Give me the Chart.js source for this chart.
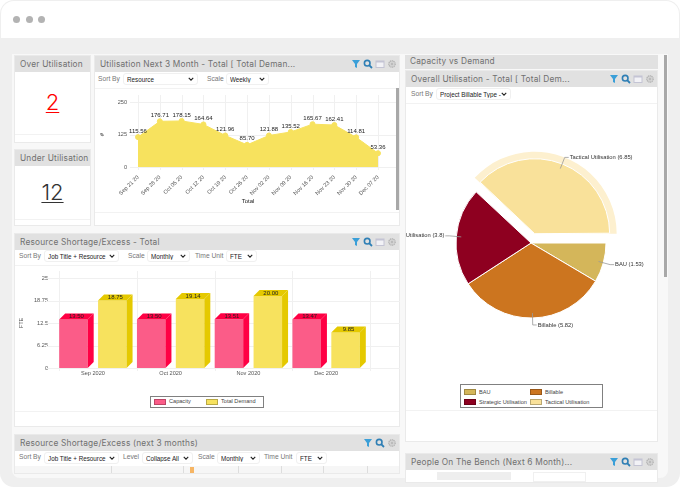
<!DOCTYPE html>
<html lang="en">
<head>
    <meta charset="UTF-8">
    <title>Capacity vs Demand Dashboard</title>
    <style>
        html, body { margin: 0; width: 680px; height: 487px; overflow: hidden; background: #fff; font-family: Inter, Arial, sans-serif; }
        #frame { position: absolute; left: 0; top: 0; width: 680px; height: 487px; background: #efefef; border-radius: 14px; overflow: hidden; filter: blur(0.3px); }
        #titlebar { position: absolute; left: 1px; top: 1px; width: 678px; height: 37px; background: #fff; border-radius: 13px 13px 0 0; }
        .dot { position: absolute; top: 15px; width: 7px; height: 7px; border-radius: 50%; background: #b3b3b3; }
        #inner { position: absolute; left: 12px; top: 54px; width: 656px; height: 424px; background: #f8f8f8; border-radius: 0 0 8px 8px; }
        .panel { position: absolute; background: #fff; border: 1px solid #eaeaea; box-sizing: border-box; overflow: hidden; }
        .head { position: absolute; left: 0; top: 0; right: 0; height: 16px; background: #e1e1e1; color: #707070; font-size: 8.3px; line-height: 16px; padding-left: 5px; letter-spacing: .2px; white-space: nowrap; }
        .icons { position: absolute; right: 2px; top: 3px; display: flex; gap: 2px; }
        .icons svg { width: 10px; height: 10px; display: block; }
        .lbl { position: absolute; font: 6.7px "Liberation Sans", Arial, sans-serif; color: #777; }
        select { position: absolute; height: 12px; padding: 0 0 0 3px; appearance: none; -webkit-appearance: none; background: #fff url("data:image/svg+xml,%3Csvg xmlns='http://www.w3.org/2000/svg' viewBox='0 0 8 5'%3E%3Cpath d='M1 1l3 3 3-3' fill='none' stroke='%23222' stroke-width='1.5'/%3E%3C/svg%3E") no-repeat right 3px center / 6px 4px; border: 1px solid #f0f0f0; border-radius: 3px; font: 6.3px "Liberation Sans", Arial, sans-serif; color: #222; outline: none; }
        .rule { position: absolute; left: 0; right: 0; height: 1px; background: #f2f2f2; }
        .big { position: absolute; left: 0; right: 0; text-align: center; font: 300 22px Inter, Arial, sans-serif; text-decoration: underline; text-decoration-thickness: 1px; text-underline-offset: 2px; }
        canvas { position: absolute; display: block; }
        .scroll { position: absolute; width: 3px; background: #a8a8a8; }
        .legend { position: absolute; box-sizing: border-box; background: #fff; border: 1.5px solid #808080; font: 5.6px "Liberation Sans", Arial, sans-serif; color: #444; }
        .legend div { position: absolute; white-space: nowrap; line-height: 7px; }
        .legend i { position: absolute; width: 12px; height: 6px; box-sizing: border-box; border: 1px solid rgba(0,0,0,.25); }
        .tick { position: absolute; top: 0; width: 1px; height: 8px; background: #ddd; }
    </style>
</head>
<body>
    <div id="frame">
        <div id="titlebar">
            <div class="dot" style="left:12px"></div>
            <div class="dot" style="left:25px"></div>
            <div class="dot" style="left:37px"></div>
        </div>
        <div id="inner"></div>

        <div class="panel" style="left:14px;top:55px;width:77px;height:88px">
            <div class="head">Over Utilisation</div>
            <div class="big" style="top:33px;color:#f00">2</div>
            <div class="rule" style="top:78px"></div>
        </div>
        <div class="panel" style="left:14px;top:149px;width:77px;height:77px">
            <div class="head">Under Utilisation</div>
            <div class="big" style="top:29px;color:#333">12</div>
            <div class="rule" style="top:69px"></div>
        </div>

        <div class="panel" style="left:94px;top:55px;width:306px;height:171px">
            <div class="head">Utilisation Next 3 Month - Total [ Total Deman...<div class="icons" data-icons="4"></div></div>
            <span class="lbl" style="left:3px;top:19px">Sort By</span>
            <select style="left:28px;top:17px;width:75px"><option>Resource</option></select>
            <span class="lbl" style="left:112px;top:19px">Scale</span>
            <select style="left:131px;top:17px;width:43px"><option>Weekly</option></select>
            <div class="rule" style="top:32px"></div>
            <div class="rule" style="top:156px"></div>
        </div>

        <div class="panel" style="left:14px;top:233px;width:386px;height:194px">
            <div class="head">Resource Shortage/Excess - Total<div class="icons" data-icons="4"></div></div>
            <span class="lbl" style="left:4px;top:18px">Sort By</span>
            <select style="left:29px;top:16px;width:75px"><option>Job Title + Resource</option></select>
            <span class="lbl" style="left:113px;top:18px">Scale</span>
            <select style="left:132px;top:16px;width:43px"><option>Monthly</option></select>
            <span class="lbl" style="left:180px;top:18px">Time Unit</span>
            <select style="left:211px;top:16px;width:31px"><option>FTE</option></select>
            <div class="rule" style="top:31px"></div>
            <div class="rule" style="top:177px"></div>
        </div>

        <div class="panel" style="left:14px;top:434px;width:386px;height:40px">
            <div class="head">Resource Shortage/Excess (next 3 months)<div class="icons" data-icons="3"></div></div>
            <span class="lbl" style="left:4px;top:18px">Sort By</span>
            <select style="left:29px;top:17px;width:75px"><option>Job Title + Resource</option></select>
            <span class="lbl" style="left:108px;top:18px">Level</span>
            <select style="left:127px;top:17px;width:51px"><option>Collapse All</option></select>
            <span class="lbl" style="left:183px;top:18px">Scale</span>
            <select style="left:202px;top:17px;width:43px"><option>Monthly</option></select>
            <span class="lbl" style="left:249px;top:18px">Time Unit</span>
            <select style="left:281px;top:17px;width:31px"><option>FTE</option></select>
            <div style="position:absolute;left:0;right:0;top:31px;height:8px;background:#f6f6f6">
                <div class="tick" style="left:96px"></div>
                <div class="tick" style="left:168px"></div>
                <div class="tick" style="left:223px"></div>
                <div class="tick" style="left:266px"></div>
                <div class="tick" style="left:308px"></div>
                <div class="tick" style="left:352px"></div>
                <div style="position:absolute;left:175px;top:1px;width:4px;height:7px;background:#f6b564"></div>
            </div>
        </div>

        <div class="panel" style="left:405px;top:55px;width:253px;height:14px;border:none">
            <div class="head" style="height:14px;line-height:13px;background:#e1e1e1">Capacity vs Demand</div>
        </div>
        <div class="panel" style="left:405px;top:70px;width:253px;height:372px">
            <div class="head">Overall Utilisation - Total [ Total Dem...<div class="icons" data-icons="4"></div></div>
            <span class="lbl" style="left:5px;top:19px">Sort By</span>
            <select style="left:30px;top:17px;width:75px"><option>Project Billable Type -</option></select>
            <div class="rule" style="top:32px"></div>
            <div class="rule" style="top:339px"></div>
        </div>
        <div class="panel" style="left:405px;top:453px;width:253px;height:30px">
            <div class="head">People On The Bench (Next 6 Month)...<div class="icons" data-icons="4"></div></div>
            <div style="position:absolute;left:31px;top:18px;width:74px;height:8px;background:#eee"></div>
            <div style="position:absolute;left:127px;top:18px;width:51px;height:8px;border:1px solid #f0f0f0"></div>
        </div>

        <canvas id="lineChart" width="301" height="138" style="left:95px;top:88px"></canvas>
        <canvas id="barChart" width="385" height="120" style="left:15px;top:265px"></canvas>
        <canvas id="pieChart" width="250" height="280" style="left:406px;top:103px"></canvas>

        <div class="legend" id="barLegend" style="left:150px;top:396px;width:114px;height:12px"></div>
        <div class="legend" id="pieLegend" style="left:460px;top:384px;width:143px;height:24px"></div>

        <div class="scroll" style="left:396px;top:88px;height:122px"></div>
        <div class="scroll" style="left:664px;top:55px;height:222px"></div>
    </div>

    <script src="https://cdn.jsdelivr.net/npm/chart.js"></script>
    <script>
        // Utilisation line
        const weekLabels = ['Sep 21 20', 'Sep 28 20', 'Oct 05 20', 'Oct 12 20', 'Oct 19 20', 'Oct 26 20',
            'Nov 02 20', 'Nov 09 20', 'Nov 16 20', 'Nov 23 20', 'Nov 30 20', 'Dec 07 20'];
        const weekValues = [115.56, 176.71, 178.15, 164.64, 121.96, 85.70, 121.88, 135.52, 165.67, 162.41, 114.81, 53.36];
        const weekTicks = [0, 125, 250];

        // Shortage/excess bars
        const monthLabels = ['Sep 2020', 'Oct 2020', 'Nov 2020', 'Dec 2020'];
        const capacityValues = [13.50, 13.50, 13.51, 13.47];
        const demandValues = [18.75, 19.14, 20.00, 9.85];
        const fteTicks = [0, 6.25, 12.5, 18.75, 25];

        // Overall utilisation pie
        const typeLabels = ['BAU', 'Billable', 'Strategic Utilisation', 'Tactical Utilisation'];
        const typeValues = [1.53, 5.82, 3.8, 6.85];

        const FONT = 'Liberation Sans, Arial, sans-serif';
        const TEXT = '#555';
        const GRID = '#f0f0f0';
        const YELLOW = '#f7e25e';
        const YELLOW_DARK = '#e5c900';
        const PINK = '#fb5c88';
        const PINK_DARK = '#ff0044';
        const PIE_COLORS = ['#d4b65a', '#cc751f', '#8e0020', '#f9e19a'];
        const BAR_DEPTH = 6;
        const PIE_RADIUS = 75;
        const PIE_PULL = 10;

        Chart.defaults.font.family = FONT;
        Chart.defaults.font.size = 5.6;
        Chart.defaults.color = TEXT;
        Chart.defaults.animation = false;
        Chart.defaults.responsive = false;
        Chart.defaults.plugins.legend.display = false;
        Chart.defaults.plugins.tooltip.enabled = false;

        // grid lines run past the plot on these charts, so they are drawn by hand from the scales
        function drawGrid(chart, xs, top) {
            const { ctx, scales } = chart;
            ctx.save();
            ctx.strokeStyle = GRID;
            ctx.lineWidth = 1;
            ctx.beginPath();
            xs.forEach(x => {
                ctx.moveTo(Math.round(x) + 0.5, top);
                ctx.lineTo(Math.round(x) + 0.5, scales.y.bottom + 3);
            });
            scales.y.ticks.forEach(t => {
                const y = Math.round(scales.y.getPixelForValue(t.value)) + 0.5;
                ctx.moveTo(scales.y.right - 8, y);
                ctx.lineTo(chart.width, y);
            });
            ctx.stroke();
            ctx.restore();
        }

        const lineExtras = {
            id: 'lineExtras',
            beforeDatasetsDraw(chart) {
                drawGrid(chart, weekLabels.map((_, i) => chart.scales.x.getPixelForValue(i)), 7);
            },
            afterDatasetsDraw(chart) {
                const { ctx, scales } = chart;
                ctx.save();
                ctx.fillStyle = '#222';
                ctx.textAlign = 'center';
                ctx.textBaseline = 'middle';
                ctx.font = '6px ' + FONT;
                chart.getDatasetMeta(0).data.forEach((pt, i) => {
                    ctx.fillText(weekValues[i].toFixed(2), pt.x, pt.y - 6);
                });
                ctx.fillText('Total', (scales.x.left + scales.x.right) / 2 - 10, scales.x.top + 34);
                ctx.restore();
            }
        };

        new Chart(document.getElementById('lineChart'), {
            type: 'line',
            data: {
                labels: weekLabels,
                datasets: [{
                    data: weekValues,
                    fill: true,
                    tension: 0,
                    borderColor: YELLOW,
                    backgroundColor: YELLOW,
                    borderWidth: 1,
                    pointRadius: 2.5,
                    pointBackgroundColor: YELLOW,
                    pointBorderColor: YELLOW
                }]
            },
            options: {
                layout: { padding: { top: 14, right: 18 } },
                scales: {
                    x: {
                        offset: false,
                        grid: { display: false, drawTicks: false },
                        border: { display: false },
                        afterFit: s => { s.height = 59; },
                        ticks: { autoSkip: false, minRotation: 45, maxRotation: 45, padding: 7 }
                    },
                    y: {
                        min: 0,
                        max: 250,
                        grid: { display: false, drawTicks: false },
                        border: { display: false },
                        afterFit: s => { s.width = 43; },
                        afterBuildTicks: s => { s.ticks = weekTicks.map(value => ({ value })); },
                        title: { display: true, text: '#', font: { size: 6, weight: 'bold' }, padding: { top: 4, bottom: 0 } },
                        ticks: { padding: 11, callback: v => String(v) }
                    }
                }
            },
            plugins: [lineExtras]
        });

        const barExtras = {
            id: 'barExtras',
            beforeDatasetsDraw(chart) {
                const x = chart.scales.x;
                const band = (x.right - x.left) / monthLabels.length;
                const lines = [0, 1, 2, 3, 4].map(i => x.left + band * i + 5);
                drawGrid(chart, lines, 6);
            },
            afterDatasetsDraw(chart) {
                const { ctx } = chart;
                const d = BAR_DEPTH;
                const darks = [PINK_DARK, YELLOW_DARK];
                const series = [capacityValues, demandValues];
                ctx.save();
                series.forEach((values, s) => {
                    chart.getDatasetMeta(s).data.forEach((bar, i) => {
                        const left = bar.x - bar.width / 2;
                        const right = bar.x + bar.width / 2;
                        ctx.fillStyle = darks[s];
                        // top face
                        ctx.beginPath();
                        ctx.moveTo(left, bar.y);
                        ctx.lineTo(left + d, bar.y - d);
                        ctx.lineTo(right + d, bar.y - d);
                        ctx.lineTo(right, bar.y);
                        ctx.closePath();
                        ctx.fill();
                        // side face
                        ctx.beginPath();
                        ctx.moveTo(right, bar.y);
                        ctx.lineTo(right + d, bar.y - d);
                        ctx.lineTo(right + d, bar.base - d);
                        ctx.lineTo(right, bar.base);
                        ctx.closePath();
                        ctx.fill();
                        ctx.fillStyle = '#222';
                        ctx.textAlign = 'center';
                        ctx.textBaseline = 'middle';
                        ctx.font = '6px ' + FONT;
                        ctx.fillText(values[i].toFixed(2), bar.x + d / 2, bar.y - d / 2);
                    });
                });
                ctx.restore();
            }
        };

        new Chart(document.getElementById('barChart'), {
            type: 'bar',
            data: {
                labels: monthLabels,
                datasets: [
                    { label: 'Capacity', data: capacityValues, backgroundColor: PINK },
                    { label: 'Total Demand', data: demandValues, backgroundColor: YELLOW }
                ]
            },
            options: {
                layout: { padding: { top: 13, right: 35 } },
                datasets: { bar: { categoryPercentage: 1, barPercentage: 0.733 } },
                scales: {
                    x: {
                        grid: { display: false, drawTicks: false },
                        border: { display: false },
                        afterFit: s => { s.height = 17; },
                        ticks: { padding: 2, maxRotation: 0 }
                    },
                    y: {
                        min: 0,
                        max: 25,
                        grid: { display: false, drawTicks: false },
                        border: { display: false },
                        afterFit: s => { s.width = 39; },
                        afterBuildTicks: s => { s.ticks = fteTicks.map(value => ({ value })); },
                        title: { display: true, text: 'FTE', font: { size: 5.5 }, padding: { top: 3, bottom: 0 } },
                        ticks: { padding: 6, callback: v => String(v) }
                    }
                }
            },
            plugins: [barExtras]
        });

        // arcs only move by a quarter of their offset option
        const pulled = arc => arc.options.offset / 4;

        const pieExtras = {
            id: 'pieExtras',
            afterDatasetsUpdate(chart) {
                // Chart.js also grows a pulled out slice, take that back off
                chart.getDatasetMeta(0).data.forEach(arc => {
                    const fix = 1 - Math.sin(Math.min(Math.PI, arc.circumference));
                    arc.outerRadius = PIE_RADIUS - pulled(arc) * fix;
                });
            },
            beforeDatasetsDraw(chart) {
                // pale ring around the pulled out slice
                const { ctx } = chart;
                const arc = chart.getDatasetMeta(0).data[3];
                const mid = (arc.startAngle + arc.endAngle) / 2;
                const x = arc.x + Math.cos(mid) * pulled(arc);
                const y = arc.y + Math.sin(mid) * pulled(arc);
                ctx.save();
                ctx.fillStyle = '#fdf0cf';
                ctx.beginPath();
                ctx.moveTo(x, y);
                ctx.arc(x, y, PIE_RADIUS + 7, arc.startAngle, arc.endAngle);
                ctx.closePath();
                ctx.fill();
                ctx.restore();
            },
            afterDatasetsDraw(chart) {
                const { ctx } = chart;
                ctx.save();
                ctx.font = '5.8px ' + FONT;
                ctx.textBaseline = 'middle';
                chart.getDatasetMeta(0).data.forEach((arc, i) => {
                    const mid = (arc.startAngle + arc.endAngle) / 2;
                    const cos = Math.cos(mid);
                    const sin = Math.sin(mid);
                    const r = PIE_RADIUS + pulled(arc);
                    const x0 = arc.x + cos * (r - 5);
                    const y0 = arc.y + sin * (r - 5);
                    const x1 = arc.x + cos * (r + 7);
                    const y1 = arc.y + sin * (r + 7);
                    const dir = cos >= 0 ? 1 : -1;
                    ctx.strokeStyle = '#999';
                    ctx.lineWidth = 0.8;
                    ctx.beginPath();
                    ctx.moveTo(x0, y0);
                    ctx.lineTo(x1, y1);
                    ctx.lineTo(x1 + dir * 4, y1);
                    ctx.stroke();
                    ctx.fillStyle = '#333';
                    ctx.textAlign = dir > 0 ? 'left' : 'right';
                    ctx.fillText(typeLabels[i] + ' (' + typeValues[i] + ')', x1 + dir * 5, y1);
                });
                ctx.restore();
            }
        };

        new Chart(document.getElementById('pieChart'), {
            type: 'pie',
            data: {
                labels: typeLabels,
                datasets: [{
                    data: typeValues,
                    backgroundColor: PIE_COLORS,
                    borderColor: '#fff',
                    borderWidth: 1,
                    offset: c => (c.dataIndex === 3 ? PIE_PULL * 4 : 0)
                }]
            },
            options: { rotation: 90, radius: PIE_RADIUS },
            plugins: [pieExtras]
        });

        // legends and header icons
        function addLegendItem(box, text, color, x, y) {
            box.insertAdjacentHTML('beforeend',
                `<i style="left:${x}px;top:${y}px;background:${color}"></i>` +
                `<div style="left:${x + 15}px;top:${y - 0.5}px">${text}</div>`);
        }

        const barLegend = document.getElementById('barLegend');
        addLegendItem(barLegend, 'Capacity', PINK, 3, 1.5);
        addLegendItem(barLegend, 'Total Demand', YELLOW, 55, 1.5);

        const pieLegend = document.getElementById('pieLegend');
        typeLabels.forEach((label, i) => {
            addLegendItem(pieLegend, label, PIE_COLORS[i], i % 2 ? 69 : 3, i < 2 ? 4 : 14);
        });

        const ICONS = {
            filter: '<svg viewBox="0 0 10 10"><path d="M1 1h8L6 5v4L4 8V5z" fill="#3a9fd8"/></svg>',
            search: '<svg viewBox="0 0 10 10"><circle cx="4.2" cy="4.2" r="2.8" fill="none" stroke="#2f7fb5" stroke-width="1.6"/><path d="M6.4 6.4L9 9" stroke="#2f7fb5" stroke-width="1.8"/></svg>',
            win: '<svg viewBox="0 0 10 10"><rect x="1" y="2" width="8" height="6.5" fill="#f2f2f6" stroke="#c4c4d4"/><rect x="1" y="2" width="8" height="1.5" fill="#c4c4d4"/></svg>',
            gear: '<svg viewBox="0 0 10 10"><circle cx="5" cy="5" r="3.2" fill="#d4d4d4" stroke="#b0b0b0" stroke-width="1.2" stroke-dasharray="1.2 .6"/><circle cx="5" cy="5" r="1.2" fill="#bbb"/></svg>'
        };
        document.querySelectorAll('.icons').forEach(el => {
            const names = el.dataset.icons === '4' ? ['filter', 'search', 'win', 'gear'] : ['filter', 'search', 'gear'];
            el.innerHTML = names.map(n => ICONS[n]).join('');
        });
    </script>
</body>
</html>
